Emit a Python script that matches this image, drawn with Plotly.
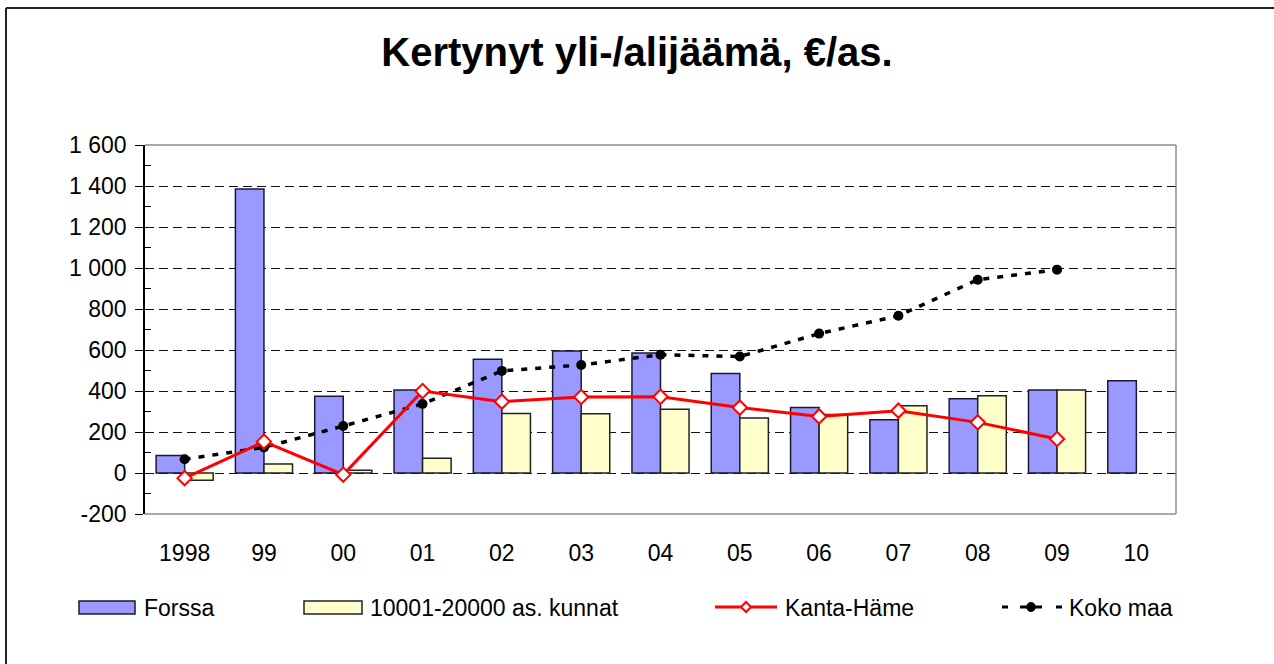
import plotly.graph_objects as go

# ---------------- data ----------------
years = ["1998", "99", "00", "01", "02", "03", "04", "05", "06", "07", "08", "09", "10"]
forssa = [85, 1385, 375, 405, 555, 595, 585, 485, 320, 260, 362, 405, 450]
kunnat = [-35, 44, 13, 72, 290, 289, 311, 268, 285, 328, 377, 405, None]
kanta_hame = [-25, 153, -8, 400, 348, 371, 372, 319, 276, 304, 247, 166, None]
koko_maa = [67, 125, 229, 337, 498, 527, 577, 568, 680, 767, 943, 992, None]
series_names = ["Forssa", "10001-20000 as. kunnat", "Kanta-Häme", "Koko maa"]
y_tickvals = [-200, 0, 200, 400, 600, 800, 1000, 1200, 1400, 1600]
y_ticktext = ["-200", "0", "200", "400", "600", "800", "1 000", "1 200", "1 400", "1 600"]
title_text = "Kertynyt yli-/alijäämä, €/as."

# ---------------- style ----------------
FONT = "Liberation Sans, Arial, sans-serif"
C_FORSSA = "#9999FF"
C_KUNNAT = "#FFFFCC"
C_KANTA = "#FF0000"
C_KOKO = "#000000"

W, H = 1274, 664
L, R, T, B = 145, 98, 145, 150
PW, PH = W - L - R, H - T - B

x_idx = list(range(len(years)))

fig = go.Figure()
fig.add_trace(go.Bar(x=x_idx, y=forssa, name=series_names[0],
                     marker=dict(color=C_FORSSA, line=dict(color="#1a1a33", width=1.5)),
                     showlegend=False))
fig.add_trace(go.Bar(x=x_idx, y=kunnat, name=series_names[1],
                     marker=dict(color=C_KUNNAT, line=dict(color="#222222", width=1.5)),
                     showlegend=False))
fig.add_trace(go.Scatter(x=x_idx, y=koko_maa, name=series_names[3], mode="lines+markers",
                         line=dict(color=C_KOKO, width=3.5, dash="6px,8px"),
                         marker=dict(symbol="circle", size=10, color=C_KOKO),
                         showlegend=False))
fig.add_trace(go.Scatter(x=x_idx, y=kanta_hame, name=series_names[2], mode="lines+markers",
                         line=dict(color=C_KANTA, width=3),
                         marker=dict(symbol="diamond", size=11, color="white",
                                     line=dict(color=C_KANTA, width=2)),
                         showlegend=False))

ymin, ymax = -200, 1600
zero_pos = (0 - ymin) / (ymax - ymin)

fig.update_layout(
    width=W, height=H,
    margin=dict(l=L, r=R, t=T, b=B),
    paper_bgcolor="white", plot_bgcolor="white",
    barmode="group", bargap=0.28, bargroupgap=0.0,
    font=dict(family=FONT, size=23, color="black"),
    title=dict(text="<b>" + title_text + "</b>", x=0.5, xanchor="center",
               y=1 - 52 / H, yanchor="middle",
               font=dict(family=FONT, size=40, color="black")),
    showlegend=False,
    xaxis=dict(range=[-0.5, len(years) - 0.5], tickmode="array", tickvals=x_idx,
               ticktext=years, ticks="", showline=False, showgrid=False,
               zeroline=False, ticklabelstandoff=23,
               tickfont=dict(family=FONT, size=23, color="black")),
    xaxis2=dict(overlaying="x", anchor="free", position=zero_pos,
                range=[-0.5, len(years) - 0.5], tickmode="array",
                tickvals=[i - 0.5 for i in range(len(years) + 1)],
                ticks="outside", ticklen=8, tickcolor="black", tickwidth=1,
                showticklabels=False, showline=True, linecolor="black", linewidth=1,
                showgrid=False, zeroline=False),
    yaxis=dict(range=[ymin, ymax], tickmode="array", tickvals=y_tickvals,
               ticktext=y_ticktext, ticks="outside", ticklen=8, tickcolor="black",
               tickwidth=1, showline=True, linecolor="black", linewidth=1.5,
               showgrid=True, gridcolor="#111111", gridwidth=1, griddash="9px,5px",
               zeroline=False, ticklabelstandoff=4,
               tickfont=dict(family=FONT, size=23, color="black"),
               minor=dict(tickmode="array",
                          tickvals=list(range(ymin + 100, ymax, 200)),
                          ticks="inside", ticklen=6, tickcolor="black",
                          tickwidth=1, showgrid=False)),
)

shapes = []
# plot-area border (grey) on top, right and bottom
shapes.append(dict(type="line", xref="paper", yref="paper", x0=0, x1=1, y0=1, y1=1,
                   line=dict(color="#8c8c8c", width=1.5), layer="above"))
shapes.append(dict(type="line", xref="paper", yref="paper", x0=1, x1=1, y0=0, y1=1,
                   line=dict(color="#8c8c8c", width=1.5), layer="above"))
shapes.append(dict(type="line", xref="paper", yref="paper", x0=0, x1=1, y0=0, y1=0,
                   line=dict(color="#8c8c8c", width=1.5), layer="above"))


def px_x(px):
    return (px - L) / PW


def px_y(py):
    return (H - B - py) / PH


# chart outer border (top and left visible)
shapes.append(dict(type="line", xref="paper", yref="paper", x0=px_x(6), x1=px_x(W + 5),
                   y0=px_y(8), y1=px_y(8), line=dict(color="#222222", width=2)))
shapes.append(dict(type="line", xref="paper", yref="paper", x0=px_x(6), x1=px_x(6),
                   y0=px_y(8), y1=px_y(H + 5), line=dict(color="#222222", width=2)))

# ---------------- custom legend ----------------
leg_y = 608
annotations = []
# Forssa swatch
shapes.append(dict(type="rect", xref="paper", yref="paper",
                   x0=px_x(79), x1=px_x(135), y0=px_y(601), y1=px_y(614),
                   fillcolor=C_FORSSA, line=dict(color="#1a1a33", width=1.5)))
annotations.append(dict(text=series_names[0], x=px_x(142), y=px_y(leg_y), xref="paper",
                        yref="paper", xanchor="left", yanchor="middle", showarrow=False,
                        font=dict(family=FONT, size=23, color="black")))
# kunnat swatch
shapes.append(dict(type="rect", xref="paper", yref="paper",
                   x0=px_x(304), x1=px_x(362), y0=px_y(601), y1=px_y(614),
                   fillcolor=C_KUNNAT, line=dict(color="#222222", width=1.5)))
annotations.append(dict(text=series_names[1], x=px_x(368), y=px_y(leg_y), xref="paper",
                        yref="paper", xanchor="left", yanchor="middle", showarrow=False,
                        font=dict(family=FONT, size=23, color="black")))
# Kanta-Häme line + diamond
shapes.append(dict(type="line", xref="paper", yref="paper", x0=px_x(715), x1=px_x(777),
                   y0=px_y(607), y1=px_y(607), line=dict(color=C_KANTA, width=3)))
dx, dy = 5 / PW, 5 / PH
cx, cy = px_x(746), px_y(607)
shapes.append(dict(type="path", xref="paper", yref="paper",
                   path=f"M {cx-dx} {cy} L {cx} {cy+dy} L {cx+dx} {cy} L {cx} {cy-dy} Z",
                   fillcolor="white", line=dict(color=C_KANTA, width=2)))
annotations.append(dict(text=series_names[2], x=px_x(783), y=px_y(leg_y), xref="paper",
                        yref="paper", xanchor="left", yanchor="middle", showarrow=False,
                        font=dict(family=FONT, size=23, color="black")))
# Koko maa dashes + dot
for a, b in [(1002, 1008), (1020, 1026), (1036, 1042), (1056, 1062)]:
    shapes.append(dict(type="line", xref="paper", yref="paper", x0=px_x(a), x1=px_x(b),
                       y0=px_y(607), y1=px_y(607), line=dict(color=C_KOKO, width=3)))
rx, ry = 4.5 / PW, 4.5 / PH
cx = px_x(1031)
shapes.append(dict(type="circle", xref="paper", yref="paper",
                   x0=cx - rx, x1=cx + rx, y0=cy - ry, y1=cy + ry,
                   fillcolor=C_KOKO, line=dict(color=C_KOKO, width=1)))
annotations.append(dict(text=series_names[3], x=px_x(1067), y=px_y(leg_y), xref="paper",
                        yref="paper", xanchor="left", yanchor="middle", showarrow=False,
                        font=dict(family=FONT, size=23, color="black")))

fig.update_layout(shapes=shapes, annotations=annotations)

fig.write_html("out.html", config={"displayModeBar": False},
               post_script="document.body.style.margin='0';document.body.style.overflow='hidden';")
